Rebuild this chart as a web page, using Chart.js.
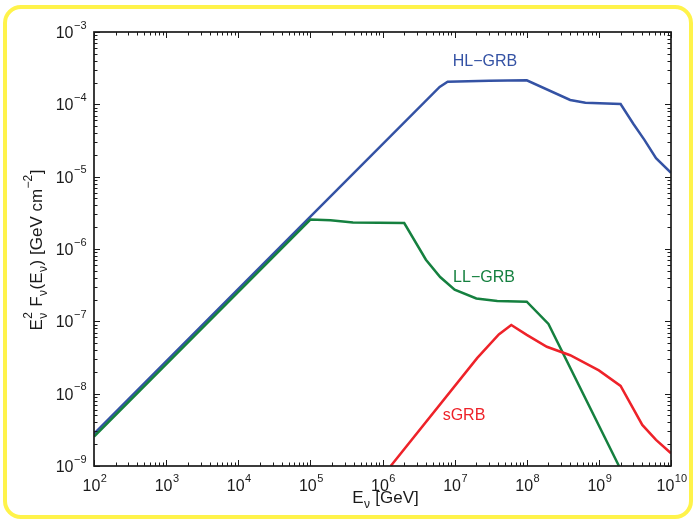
<!DOCTYPE html>
<html>
<head>
<meta charset="utf-8">
<script src="https://cdn.jsdelivr.net/npm/chart.js@4"></script>
<style>
  html, body { margin: 0; padding: 0; background: #fff; }
  #wrap { width: 696px; height: 522px; }
</style>
</head>
<body>
<div id="wrap"><canvas id="grbChart" width="696" height="522"></canvas></div>
<script>
// Data (E in GeV, E^2 F in GeV cm^-2)
const hlEnergy = [1e2, 1e5, 6.2e6, 8e6, 3e7, 1e8, 4e8, 6.5e8, 2e9, 3e9, 4.3e9, 6.2e9, 1e10];
const hlFlux   = [2.8e-9, 2.8e-6, 1.74e-4, 2.05e-4, 2.12e-4, 2.15e-4, 1.15e-4, 1.05e-4, 1.01e-4, 5.4e-5, 3.2e-5, 1.8e-5, 1.13e-5];

const llEnergy = [1e2, 1e5, 1.9e5, 3.9e5, 2e6, 4e6, 6.3e6, 1e7, 2e7, 3.9e7, 1e8, 2e8, 1.9e9];
const llFlux   = [2.55e-9, 2.55e-6, 2.5e-6, 2.33e-6, 2.28e-6, 7.1e-7, 4.1e-7, 2.73e-7, 2.07e-7, 1.91e-7, 1.87e-7, 9.2e-8, 1e-9];

const sEnergy = [1.3e6, 2.05e7, 4.1e7, 6.1e7, 1e8, 1.9e8, 4e8, 1e9, 2e9, 4e9, 6.2e9, 1e10];
const sFlux   = [1e-9, 3.1e-8, 6.6e-8, 8.9e-8, 6.5e-8, 4.45e-8, 3.4e-8, 2.1e-8, 1.28e-8, 3.7e-9, 2.3e-9, 1.5e-9];

const xDecades = [2, 3, 4, 5, 6, 7, 8, 9, 10];
const yDecades = [-9, -8, -7, -6, -5, -4, -3];

const colors = {
    blue: '#3452a4',
    green: '#15803f',
    red: '#ee2229',
    axis: '#1a1a1a',
    frame: '#fff34a'
};

const FONT = "'Liberation Sans', Arial, sans-serif";

function toPoints(xs, ys) {
    return xs.map((x, i) => ({ x: x, y: ys[i] }));
}

// draw text made of pieces: {t} normal, {sub}, {sup}, or both stacked
function drawRich(ctx, parts, x, y, size, align, small) {
    small = small || Math.round(size * 0.7);
    const widths = parts.map(p => {
        if (p.t !== undefined) { ctx.font = `${size}px ${FONT}`; return ctx.measureText(p.t).width; }
        ctx.font = `${small}px ${FONT}`;
        return Math.max(p.sub ? ctx.measureText(p.sub).width : 0, p.sup ? ctx.measureText(p.sup).width : 0) + 1;
    });
    const total = widths.reduce((a, b) => a + b, 0);
    let cx = align === 'center' ? x - total / 2 : align === 'right' ? x - total : x;
    ctx.textAlign = 'left';
    ctx.textBaseline = 'alphabetic';
    parts.forEach((p, i) => {
        if (p.t !== undefined) {
            ctx.font = `${size}px ${FONT}`;
            ctx.fillText(p.t, cx, y);
        } else {
            ctx.font = `${small}px ${FONT}`;
            if (p.sup) ctx.fillText(p.sup, cx + 0.5, y - size * 0.58);
            if (p.sub) ctx.fillText(p.sub, cx + 0.5, y + size * 0.32);
        }
        cx += widths[i];
    });
    return total;
}

const axesPlugin = {
    id: 'matlabAxes',
    beforeDraw(chart) {
        const ctx = chart.ctx;
        ctx.save();
        ctx.fillStyle = '#fff';
        ctx.fillRect(0, 0, chart.width, chart.height);
        ctx.strokeStyle = colors.frame;
        ctx.lineWidth = 4;
        ctx.beginPath();
        ctx.roundRect(5, 7, 686, 510, 16);
        ctx.stroke();
        ctx.restore();
    },
    afterDraw(chart) {
        const ctx = chart.ctx;
        const a = chart.chartArea;
        const xs = chart.scales.x, ys = chart.scales.y;
        ctx.save();
        ctx.strokeStyle = colors.axis;
        ctx.fillStyle = colors.axis;

        // ticks, inward on all four sides
        ctx.lineWidth = 1;
        ctx.beginPath();
        xDecades.forEach(d => {
            for (let k = 1; k <= 9; k++) {
                if (k > 1 && d === xDecades[xDecades.length - 1]) break;
                const px = Math.round(xs.getPixelForValue(k * Math.pow(10, d))) + 0.5;
                const len = k === 1 ? 6 : 3.5;
                ctx.moveTo(px, a.bottom); ctx.lineTo(px, a.bottom - len);
                ctx.moveTo(px, a.top); ctx.lineTo(px, a.top + len);
            }
        });
        yDecades.forEach(d => {
            for (let k = 1; k <= 9; k++) {
                if (k > 1 && d === yDecades[yDecades.length - 1]) break;
                const py = Math.round(ys.getPixelForValue(k * Math.pow(10, d))) + 0.5;
                const len = k === 1 ? 6 : 3.5;
                ctx.moveTo(a.left, py); ctx.lineTo(a.left + len, py);
                ctx.moveTo(a.right, py); ctx.lineTo(a.right - len, py);
            }
        });
        ctx.stroke();

        // box
        ctx.lineWidth = 1.7;
        ctx.strokeRect(a.left, a.top, a.right - a.left, a.bottom - a.top);

        // tick labels
        xDecades.forEach(d => {
            const px = xs.getPixelForValue(Math.pow(10, d));
            drawRich(ctx, [{ t: '10' }, { sup: String(d) }], px + 1, a.bottom + 25, 16, 'center', 11);
        });
        yDecades.forEach(d => {
            const py = ys.getPixelForValue(Math.pow(10, d));
            drawRich(ctx, [{ t: '10' }, { sup: '\u2212' + String(-d) }], a.left - 7, py + 6, 16, 'right', 11);
        });

        // axis titles
        drawRich(ctx, [{ t: 'E' }, { sub: '\u03bd' }, { t: ' [GeV]' }], (a.left + a.right) / 2 + 3, 503, 17, 'center', 12);
        ctx.save();
        ctx.translate(42, (a.top + a.bottom) / 2 + 1);
        ctx.rotate(-Math.PI / 2);
        drawRich(ctx, [
            { t: 'E' }, { sup: '2', sub: '\u03bd' }, { t: ' F' }, { sub: '\u03bd' },
            { t: '(E' }, { sub: '\u03bd' }, { t: ') [GeV cm' }, { sup: '\u22122' }, { t: ']' }
        ], 0, 0, 17, 'center', 12);
        ctx.restore();

        // curve labels
        ctx.font = `16px ${FONT}`;
        ctx.textAlign = 'center';
        ctx.textBaseline = 'middle';
        ctx.fillStyle = colors.blue;
        ctx.fillText('HL\u2212GRB', 485, 62);
        ctx.fillStyle = colors.green;
        ctx.fillText('LL\u2212GRB', 484, 278);
        ctx.fillStyle = colors.red;
        ctx.fillText('sGRB', 464, 416);
        ctx.restore();
    }
};

const lineStyle = { borderWidth: 2.5, pointRadius: 0, fill: false, tension: 0 };

new Chart(document.getElementById('grbChart').getContext('2d'), {
    type: 'line',
    data: {
        datasets: [
            { label: 'sGRB', data: toPoints(sEnergy, sFlux), borderColor: colors.red, ...lineStyle },
            { label: 'LL-GRB', data: toPoints(llEnergy, llFlux), borderColor: colors.green, ...lineStyle },
            { label: 'HL-GRB', data: toPoints(hlEnergy, hlFlux), borderColor: colors.blue, ...lineStyle }
        ]
    },
    options: {
        responsive: false,
        animation: false,
        events: [],
        layout: { padding: { left: 94, right: 25, top: 32, bottom: 56 } },
        plugins: { legend: { display: false }, tooltip: { enabled: false } },
        scales: {
            x: { type: 'logarithmic', min: 1e2, max: 1e10, display: false },
            y: { type: 'logarithmic', min: 1e-9, max: 1e-3, display: false }
        }
    },
    plugins: [axesPlugin]
});
</script>
</body>
</html>
